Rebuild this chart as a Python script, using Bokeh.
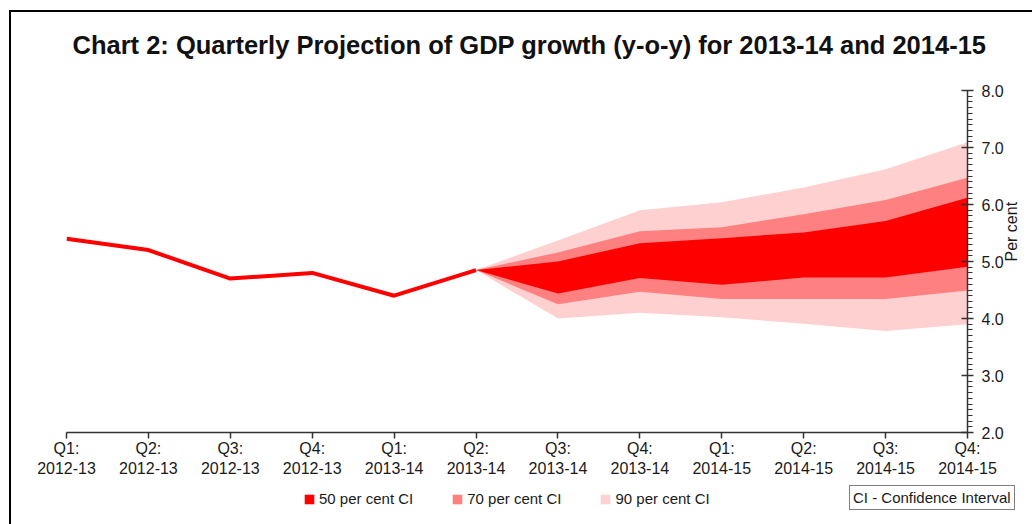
import math
from bokeh.plotting import figure
from bokeh.layouts import column
from bokeh.models import (Range1d, FixedTicker, SingleIntervalTicker, NumeralTickFormatter,
                          Legend, LegendItem, Title)
from bokeh.embed import file_html
from bokeh.resources import INLINE

# ---------------- data ----------------
quarters = ["Q1:\n2012-13", "Q2:\n2012-13", "Q3:\n2012-13", "Q4:\n2012-13",
            "Q1:\n2013-14", "Q2:\n2013-14", "Q3:\n2013-14", "Q4:\n2013-14",
            "Q1:\n2014-15", "Q2:\n2014-15", "Q3:\n2014-15", "Q4:\n2014-15"]
actual = [5.4, 5.2, 4.7, 4.8, 4.4, 4.85]          # Q1 2012-13 .. Q2 2013-14
# fan chart bands, Q2 2013-14 .. Q4 2014-15
ci90_low = [4.85, 4.00, 4.10, 4.02, 3.91, 3.78, 3.90]
ci70_low = [4.85, 4.25, 4.47, 4.34, 4.34, 4.34, 4.49]
ci50_low = [4.85, 4.44, 4.71, 4.59, 4.72, 4.72, 4.91]
ci50_high = [4.85, 5.00, 5.32, 5.41, 5.51, 5.71, 6.12]
ci70_high = [4.85, 5.16, 5.53, 5.60, 5.83, 6.08, 6.47]
ci90_high = [4.85, 5.37, 5.90, 6.04, 6.30, 6.62, 7.09]
band_labels = ["50 per cent CI", "70 per cent CI", "90 per cent CI"]
band_colors = ["#FF0000", "#FF8080", "#FFD0D0"]
note_text = "CI - Confidence Interval"
title_text = "Chart 2: Quarterly Projection of GDP growth (y-o-y) for 2013-14 and 2014-15"
FONT = "Liberation Sans"

x_all = list(range(len(quarters)))
x_actual = x_all[:len(actual)]
x_fan = x_all[len(actual) - 1:]
bands = [(ci50_low, ci50_high), (ci70_low, ci70_high), (ci90_low, ci90_high)]

# ---------------- main chart ----------------
p = figure(width=1021, height=470, output_backend="svg", toolbar_location=None,
           x_range=Range1d(x_all[0], x_all[-1]), y_range=Range1d(2, 8),
           y_axis_location="right",
           min_border_left=55, min_border_right=65, min_border_top=78, min_border_bottom=50)
p.xgrid.visible = False
p.ygrid.visible = False
p.outline_line_color = None
p.background_fill_color = "white"
p.border_fill_color = "white"

# title
p.title.text = title_text
p.title.align = "left"
p.title.offset = 6
p.title.text_font = FONT
p.title.text_font_size = "25.5px"
p.title.text_font_style = "bold"
p.title.text_color = "#111111"
p.add_layout(Title(text=" ", text_font_size="10px", standoff=14), "above")

# fan bands (widest first)
for (lo, hi), c in reversed(list(zip(bands, band_colors))):
    p.varea(x=x_fan, y1=lo, y2=hi, fill_color=c)

# actual line
p.line(x=x_actual, y=actual, line_color="#FF0000", line_width=4)

# x axis
xa = p.xaxis[0]
xa.ticker = FixedTicker(ticks=x_all)
xa.major_label_overrides = {i: lab for i, lab in enumerate(quarters)}
xa.major_label_text_font = FONT
xa.major_label_text_font_size = "16px"
xa.major_label_text_color = "#1a1a1a"
xa.major_tick_in = 0
xa.major_tick_out = 6
xa.minor_tick_line_color = None
xa.major_label_standoff = 1
xa.axis_line_color = "#333333"
xa.axis_line_width = 1.5
xa.major_tick_line_color = "#333333"
xa.major_tick_line_width = 1.5

# y axis (right)
ya = p.yaxis[0]
ya.ticker = SingleIntervalTicker(interval=1, num_minor_ticks=10)
ya.formatter = NumeralTickFormatter(format="0.0")
ya.major_label_text_font = FONT
ya.major_label_text_font_size = "16px"
ya.major_label_text_color = "#1a1a1a"
ya.major_tick_in = 6
ya.major_tick_out = 6
ya.minor_tick_in = 0
ya.minor_tick_out = 5
ya.major_label_standoff = 8
ya.axis_line_color = "#333333"
ya.axis_line_width = 1.5
ya.major_tick_line_color = "#333333"
ya.major_tick_line_width = 1.5
ya.minor_tick_line_color = "#333333"
ya.axis_label = "Per cent"
ya.axis_label_text_font = FONT
ya.axis_label_text_font_size = "16px"
ya.axis_label_text_font_style = "normal"
ya.axis_label_text_color = "#1a1a1a"
ya.axis_label_standoff = 5
try:
    ya.axis_label_orientation = math.pi / 2
except Exception:
    pass

# ---------------- legend strip ----------------
q = figure(width=1021, height=42, output_backend="svg", toolbar_location=None,
           x_range=Range1d(0, 1), y_range=Range1d(0, 1),
           x_axis_location=None, y_axis_location=None, min_border=0)
q.xgrid.visible = False
q.ygrid.visible = False
q.outline_line_color = None
q.background_fill_color = "white"
q.border_fill_color = "white"
for fig in (p, q):
    try:
        fig.frame_align = False
    except Exception:
        pass

# legend swatches: the same band series (they fall outside this strip's ranges)
swatches = [q.varea(x=x_fan, y1=lo, y2=hi, fill_color=c) for (lo, hi), c in zip(bands, band_colors)]

legend = Legend(items=[LegendItem(label=lab, renderers=[r]) for lab, r in zip(band_labels, swatches)],
                orientation="horizontal", location=(292, 17),
                padding=0, margin=0, spacing=38, glyph_width=12, glyph_height=12,
                label_height=12, label_standoff=4, label_text_font=FONT,
                label_text_font_size="15px", label_text_color="#1a1a1a",
                border_line_color=None, background_fill_alpha=0)
q.add_layout(legend)

note = Legend(items=[LegendItem(label=note_text, renderers=[])],
              orientation="horizontal", location=(838, 14),
              padding=3, margin=0, spacing=0, glyph_width=0, glyph_height=12,
              label_height=12, label_standoff=0, label_text_font=FONT,
              label_text_font_size="15px", label_text_color="#1a1a1a",
              border_line_color="#000000", border_line_width=1,
              background_fill_color="white", background_fill_alpha=1)
q.add_layout(note)

page = column(p, q, spacing=0)
page.styles = {"margin-left": "9px", "margin-top": "10px",
               "border-left": "2px solid #000", "border-top": "2px solid #000"}

open("out.html", "w").write(file_html(page, INLINE))
